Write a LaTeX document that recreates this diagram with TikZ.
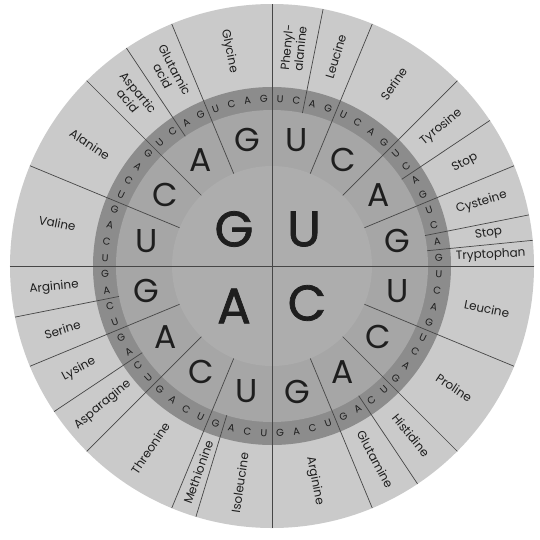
\documentclass[tikz,border=0pt]{standalone}
\usepackage{fontspec}
\setmainfont{Poppins}
\newfontfamily\firstfont[FakeBold=1.5]{Poppins}
\definecolor{outergray}{HTML}{CACACA}
\definecolor{bandgray}{HTML}{8C8C8C}
\definecolor{ringgray}{HTML}{A6A6A6}
\definecolor{centergray}{HTML}{ADADAD}
\definecolor{linegray}{HTML}{464646}
\definecolor{ink}{HTML}{1E1E1E}
\begin{document}
\begin{tikzpicture}[x=1pt,y=1pt,
  divline/.style={draw=linegray, line width=0.7pt},
  bigletter/.style={font=\fontsize{50}{50}\firstfont, text=ink, inner sep=0pt},
  secletter/.style={font=\fontsize{33}{33}\selectfont, text=ink, inner sep=0pt},
  thirdletter/.style={font=\fontsize{10}{10}\selectfont, text=ink, inner sep=0pt},
  aalabel/.style={font=\fontsize{12}{13.5}\selectfont, text=ink, inner sep=0pt, align=center}]
\useasboundingbox (-272,-273) rectangle (268,266);
\fill[white] (-272,-273) rectangle (268,266);
\fill[outergray] (0,0) circle (262pt);
\fill[bandgray] (0,0) circle (179pt);
\fill[ringgray] (0,0) circle (156pt);
\fill[centergray] (0,0) circle (100pt);
% axes
\draw[divline] (90:262pt) -- (-90:262pt);
\draw[divline] (0:262pt) -- (180:262pt);
% second-letter boundaries
\foreach \a in {22.5,45,67.5,112.5,135,157.5,-22.5,-45,-67.5,-112.5,-135,-157.5}
  \draw[divline] (\a:100pt) -- (\a:262pt);
% amino acid boundaries
\foreach \a in {78.75,33.75,11.25,5.625,-56.25,-106.875,-146.25,-168.75,123.75}
  \draw[divline] (\a:156pt) -- (\a:262pt);
% first letters
\node[bigletter] (fG) at (-38,37) {G};
\node[bigletter] (fU) at (32,37) {U};
\node[bigletter] (fA) at (-38,-40) {A};
\node[bigletter] (fC) at (35,-37) {C};
% second and third letters
\foreach \s/\fl in {90/u,0/c,-90/a,180/g} {
  \foreach \L [count=\i from 0] in {U,C,A,G} {
    \pgfmathsetmacro\m{\s-22.5*\i-11.25}
    \node[secletter] (sec-\fl-\i) at (\m:128pt) {\L};
    \foreach \T [count=\j from 0] in {U,C,A,G} {
      \pgfmathsetmacro\t{\s-22.5*\i-5.625*\j-2.8125}
      \pgfmathsetmacro\rt{mod(\t+1035,90)-45}
      \node[thirdletter, rotate=\rt] (th-\fl-\i-\j) at (\t:167pt) {\T};
    }
  }
}
% amino acids
\foreach \ang/\txt [count=\k] in {
  84.375/Phenyl-\\alanine, 73.125/Leucine, 56.25/Serine, 39.375/Tyrosine,
  28.125/Stop, 16.875/Cysteine, 8.4375/Stop, 2.8125/Tryptophan,
  -11.25/Leucine, -33.75/Proline, -50.625/Histidine, -61.875/Glutamine,
  -78.75/Arginine, -98.4375/Isoleucine, -109.6875/Methionine, -123.75/Threonine,
  -140.625/Asparagine, -151.875/Lysine, -163.125/Serine, -174.375/Arginine,
  168.75/Valine, 146.25/Alanine, 129.375/Aspartic\\acid, 118.125/Glutamic\\acid,
  101.25/Glycine} {
  \pgfmathsetmacro\rr{ifthenelse(abs(\ang)<90,\ang,\ang-180)}
  \node[aalabel, rotate=\rr] (aa\k) at (\ang:219pt) {\txt};
}
\end{tikzpicture}
\end{document}
